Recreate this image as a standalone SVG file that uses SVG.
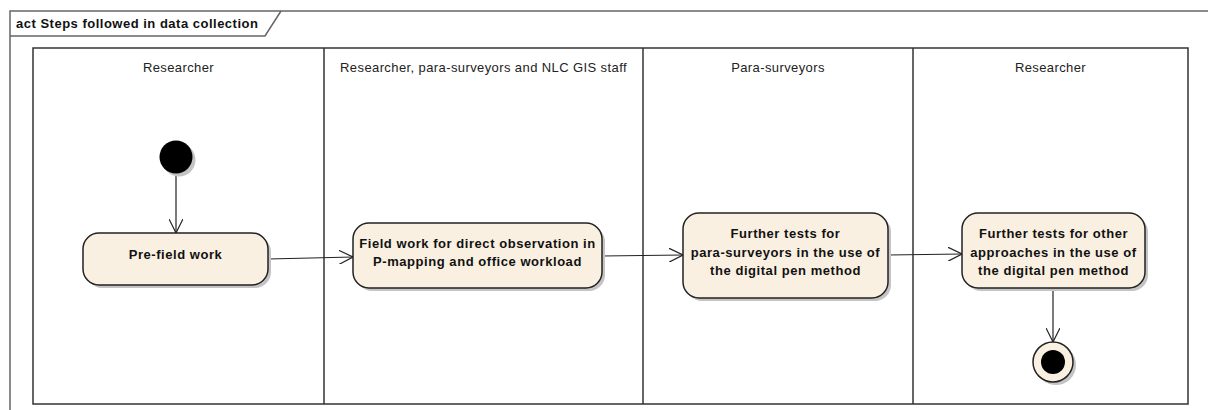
<svg xmlns="http://www.w3.org/2000/svg" width="1208" height="410" viewBox="0 0 1208 410">
<defs>
<style>
.frame{fill:none;stroke:#666;stroke-width:1.5}
.lane{fill:none;stroke:#333;stroke-width:1.5}
.hdr{font-family:"Liberation Sans",Arial,sans-serif;font-size:13px;letter-spacing:0.4px;fill:#222;text-anchor:middle}
.title{font-family:"Liberation Sans",Arial,sans-serif;font-size:13px;letter-spacing:0.5px;font-weight:bold;fill:#111}
.act{fill:#FAF0E1;stroke:#222;stroke-width:1.5}
.shadow{fill:#C4C4C4}
.lbl{font-family:"Liberation Sans",Arial,sans-serif;font-size:13px;letter-spacing:0.55px;font-weight:bold;fill:#111;text-anchor:middle}
.edge{fill:none;stroke:#222;stroke-width:1.2;marker-end:url(#open)}
</style>
<marker id="open" viewBox="0 0 15 14" refX="14" refY="7" markerWidth="15" markerHeight="14" markerUnits="userSpaceOnUse" orient="auto">
<path d="M0,0 L14,7 L0,14" fill="none" stroke="#222" stroke-width="1.2"/>
</marker>
</defs>
<rect width="1208" height="410" fill="#fff"/>
<g id="frame">
<path class="frame" d="M1210,11 L10,11 L10,412"/>
<path class="frame" d="M10,36 L265,36 L281,11"/>
<text class="title" x="16" y="28">act Steps followed in data collection</text>
</g>
<g id="partitions">
<rect class="lane" x="33" y="48" width="1155" height="356"/>
<line class="lane" x1="324" y1="48" x2="324" y2="404"/>
<line class="lane" x1="643" y1="48" x2="643" y2="404"/>
<line class="lane" x1="913" y1="48" x2="913" y2="404"/>
<text class="hdr" x="178.5" y="72">Researcher</text>
<text class="hdr" x="483.5" y="72">Researcher, para-surveyors and NLC GIS staff</text>
<text class="hdr" x="778" y="72">Para-surveyors</text>
<text class="hdr" x="1050.5" y="72">Researcher</text>
</g>
<g id="connectors">
<line class="edge" x1="176" y1="174" x2="176" y2="233"/>
<line class="edge" x1="268" y1="259" x2="353" y2="257"/>
<line class="edge" x1="602" y1="256" x2="683" y2="255"/>
<line class="edge" x1="888" y1="255" x2="962" y2="254"/>
<line class="edge" x1="1053" y1="288" x2="1053" y2="342"/>
</g>
<g id="initial">
<circle class="shadow" cx="179" cy="160" r="16.5"/>
<circle cx="176" cy="157" r="16.5" fill="#000"/>
</g>
<g id="prefield">
<rect class="shadow" x="86" y="236" width="185" height="52" rx="16"/>
<rect class="act" x="83" y="233" width="185" height="52" rx="16"/>
<text class="lbl" x="175.5" y="259">Pre-field work</text>
</g>
<g id="fieldwork">
<rect class="shadow" x="356" y="226" width="249" height="65" rx="16"/>
<rect class="act" x="353" y="223" width="249" height="65" rx="16"/>
<text class="lbl" x="477.5" y="248">Field work for direct observation in</text>
<text class="lbl" x="477.5" y="266">P-mapping and office workload</text>
</g>
<g id="paratests">
<rect class="shadow" x="686" y="216" width="205" height="85" rx="16"/>
<rect class="act" x="683" y="213" width="205" height="85" rx="16"/>
<text class="lbl" x="785.5" y="238">Further tests for</text>
<text class="lbl" x="785.5" y="257">para-surveyors in the use of</text>
<text class="lbl" x="785.5" y="275">the digital pen method</text>
</g>
<g id="othertests">
<rect class="shadow" x="965" y="216" width="183" height="75" rx="16"/>
<rect class="act" x="962" y="213" width="183" height="75" rx="16"/>
<text class="lbl" x="1053.5" y="238">Further tests for other</text>
<text class="lbl" x="1053.5" y="257">approaches in the use of</text>
<text class="lbl" x="1053.5" y="275">the digital pen method</text>
</g>
<g id="final">
<circle class="shadow" cx="1056" cy="365" r="20"/>
<circle class="act" cx="1053" cy="362" r="20"/>
<circle cx="1053" cy="362" r="12" fill="#000"/>
</g>
</svg>
